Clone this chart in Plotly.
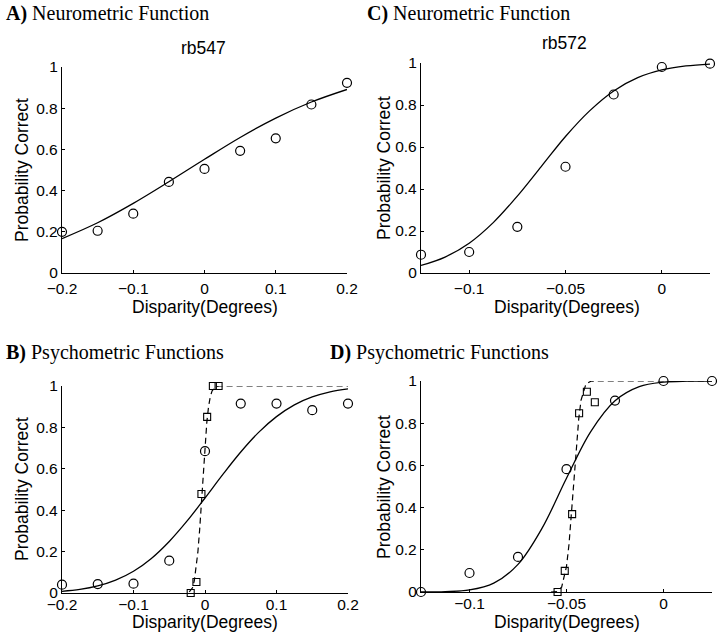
import plotly.graph_objects as go

W, H = 720, 640

# ---------------- data ----------------
# Panel A: neurometric, rb547
a_x = [-0.2, -0.15, -0.1, -0.05, 0.0, 0.05, 0.1, 0.15, 0.2]
a_y = [0.20, 0.205, 0.288, 0.442, 0.505, 0.593, 0.654, 0.818, 0.923]
a_fit_x = [-0.2, -0.15, -0.1, -0.05, 0.0, 0.05, 0.1, 0.15, 0.2]
a_fit_y = [0.167, 0.244, 0.338, 0.443, 0.552, 0.658, 0.752, 0.830, 0.891]

# Panel C: neurometric, rb572
c_x = [-0.125, -0.1, -0.075, -0.05, -0.025, 0.0, 0.025]
c_y = [0.087, 0.10, 0.22, 0.506, 0.85, 0.981, 0.997]
c_fit_x = [-0.125, -0.1125, -0.1, -0.0875, -0.075, -0.0625, -0.05, -0.0375,
           -0.025, -0.0125, 0.0, 0.0125, 0.025]
c_fit_y = [0.036, 0.076, 0.142, 0.240, 0.366, 0.508, 0.650, 0.772,
           0.867, 0.930, 0.967, 0.986, 0.995]

# Panel B: psychometric, rb547 (circles = neuron-matched, squares = monkey)
b_circ_x = [-0.2, -0.15, -0.1, -0.05, 0.0, 0.05, 0.1, 0.15, 0.2]
b_circ_y = [0.04, 0.043, 0.045, 0.156, 0.685, 0.915, 0.915, 0.883, 0.915]
b_fit_x = [-0.2, -0.175, -0.15, -0.125, -0.1, -0.075, -0.05, -0.025, 0.0,
           0.025, 0.05, 0.075, 0.1, 0.125, 0.15, 0.175, 0.2]
b_fit_y = [0.008, 0.017, 0.034, 0.062, 0.105, 0.167, 0.249, 0.348, 0.459,
           0.573, 0.681, 0.776, 0.852, 0.909, 0.947, 0.972, 0.986]
b_sq_x = [-0.020, -0.012, -0.005, 0.003, 0.011, 0.019]
b_sq_y = [0.0, 0.053, 0.478, 0.851, 1.0, 1.0]
b_dash_x = [-0.022, -0.0175, -0.015, -0.0125, -0.01, -0.0075, -0.005, -0.0025,
            0.0, 0.0025, 0.005, 0.0075, 0.01, 0.0125, 0.015, 0.02, 0.2]
b_dash_y = [0.005, 0.025, 0.058, 0.115, 0.196, 0.305, 0.443, 0.585,
            0.716, 0.823, 0.901, 0.950, 0.977, 0.990, 0.997, 1.0, 1.0]

# Panel D: psychometric, rb572
d_circ_x = [-0.125, -0.1, -0.075, -0.05, -0.025, 0.0, 0.025]
d_circ_y = [0.0, 0.09, 0.166, 0.582, 0.907, 1.0, 1.0]
d_fit_x = [-0.125, -0.1125, -0.1, -0.0875, -0.075, -0.0625, -0.05, -0.0375,
           -0.025, -0.0125, 0.0, 0.0125, 0.025]
d_fit_y = [0.0002, 0.0016, 0.0096, 0.042, 0.131, 0.304, 0.539, 0.760,
           0.906, 0.973, 0.9944, 0.9992, 0.9999]
d_sq_x = [-0.0546, -0.0509, -0.0471, -0.0435, -0.0395, -0.0354]
d_sq_y = [0.0, 0.10, 0.369, 0.847, 0.949, 0.899]
d_dash_x = [-0.058, -0.055, -0.0525, -0.05, -0.0487, -0.0475, -0.0462, -0.045,
            -0.0437, -0.0425, -0.04, -0.0375, -0.035, 0.025]
d_dash_y = [0.0, 0.002, 0.023, 0.121, 0.227, 0.37, 0.53, 0.69,
            0.82, 0.909, 0.985, 0.9987, 1.0, 1.0]

y_ticks = [0, 0.2, 0.4, 0.6, 0.8, 1]
y_tick_text = ["0", "0.2", "0.4", "0.6", "0.8", "1"]
ab_ticks = [-0.2, -0.1, 0, 0.1, 0.2]
ab_tick_text = ["\u22120.2", "\u22120.1", "0", "0.1", "0.2"]
cd_ticks = [-0.1, -0.05, 0]
cd_tick_text = ["\u22120.1", "\u22120.05", "0"]

# --------------- layout geometry (pixels) ---------------
def px_x(p):
    return p / W

def px_y(p):
    return 1 - p / H

panels = {
    # name: (x0, x1, ytop, ybottom)
    "A": (62, 347, 67, 273),
    "C": (421, 710, 63, 273),
    "B": (62, 348, 386, 593),
    "D": (421, 712, 381, 592),
}

fig = go.Figure()

circ = dict(symbol="circle-open", size=9, color="black", line=dict(width=1.2, color="black"))
sq = dict(symbol="square-open", size=7, color="black", line=dict(width=1.1, color="black"))
solid = dict(color="black", width=1.3)
dashed = dict(color="black", width=1.2, dash="6px,4px")

def add(x, y, ax, mode, **kw):
    fig.add_trace(go.Scatter(x=x, y=y, mode=mode, xaxis="x" + ax, yaxis="y" + ax,
                             showlegend=False, hoverinfo="skip", cliponaxis=False, **kw))

# A -> axis 1 (''), C -> 2, B -> 3, D -> 4
add(a_fit_x, a_fit_y, "", "lines", line=dict(shape="spline", **solid))
add(a_x, a_y, "", "markers", marker=circ)

add(c_fit_x, c_fit_y, "2", "lines", line=dict(shape="spline", **solid))
add(c_x, c_y, "2", "markers", marker=circ)

add(b_fit_x, b_fit_y, "3", "lines", line=dict(shape="spline", **solid))
add(b_dash_x, b_dash_y, "3", "lines", line=dashed)
add(b_circ_x, b_circ_y, "3", "markers", marker=circ)
add(b_sq_x, b_sq_y, "3", "markers", marker=sq)

add(d_fit_x, d_fit_y, "4", "lines", line=dict(shape="spline", **solid))
add(d_dash_x, d_dash_y, "4", "lines", line=dashed)
add(d_circ_x, d_circ_y, "4", "markers", marker=circ)
add(d_sq_x, d_sq_y, "4", "markers", marker=sq)

tickfont = dict(family="Liberation Sans, Arial, sans-serif", size=15.5, color="black")

def xaxis(panel, rng, ticks, text, anchor, standoff):
    x0, x1, yt, yb = panels[panel]
    return dict(domain=[px_x(x0), px_x(x1)], range=rng, anchor=anchor,
                tickvals=ticks, ticktext=text, ticks="inside", ticklen=3,
                tickcolor="black", tickwidth=1, showline=True, linecolor="black",
                linewidth=1.3, showgrid=False, zeroline=False, tickfont=tickfont,
                fixedrange=True, automargin=False, ticklabelstandoff=standoff)

def yaxis(panel, anchor):
    x0, x1, yt, yb = panels[panel]
    return dict(domain=[px_y(yb), px_y(yt)], range=[0, 1], anchor=anchor,
                tickvals=y_ticks, ticktext=y_tick_text, ticks="inside", ticklen=3,
                tickcolor="black", tickwidth=1, showline=True, linecolor="black",
                linewidth=1.3, showgrid=False, zeroline=False, tickfont=tickfont,
                fixedrange=True, automargin=False)

fig.update_layout(
    width=W, height=H,
    margin=dict(l=0, r=0, t=0, b=0, pad=0, autoexpand=False),
    paper_bgcolor="white", plot_bgcolor="white",
    xaxis=xaxis("A", [-0.2, 0.2], ab_ticks, ab_tick_text, "y", 1),
    yaxis=yaxis("A", "x"),
    xaxis2=xaxis("C", [-0.125, 0.025], cd_ticks, cd_tick_text, "y2", 1),
    yaxis2=yaxis("C", "x2"),
    xaxis3=xaxis("B", [-0.2, 0.2], ab_ticks, ab_tick_text, "y3", -3),
    yaxis3=yaxis("B", "x3"),
    xaxis4=xaxis("D", [-0.125, 0.025], cd_ticks, cd_tick_text, "y4", -3),
    yaxis4=yaxis("D", "x4"),
)

serif = dict(family="Liberation Serif, Times New Roman, serif", size=20, color="black")
sans = dict(family="Liberation Sans, Arial, sans-serif", size=17.5, color="black")

def note(text, x, y, font, xanchor="center", angle=0):
    fig.add_annotation(text=text, x=px_x(x), y=px_y(y), xref="paper", yref="paper",
                       xanchor=xanchor, yanchor="middle", showarrow=False,
                       font=font, textangle=angle)

# panel titles
note("<b>A)</b> Neurometric Function", 4, 14, serif, xanchor="left")
note("<b>C)</b> Neurometric Function", 365, 14, serif, xanchor="left")
note("<b>B)</b> Psychometric Functions", 4, 352, serif, xanchor="left")
note("<b>D)</b> Psychometric Functions", 328, 352, serif, xanchor="left")

# cell names
note("rb547", 203, 48, sans)
note("rb572", 564, 43, sans)

# axis titles
note("Disparity(Degrees)", 205, 307, sans)
note("Disparity(Degrees)", 567, 307, sans)
note("Disparity(Degrees)", 205, 622, sans)
note("Disparity(Degrees)", 567, 622, sans)
note("Probability Correct", 22, 170, sans, angle=-90)
note("Probability Correct", 384, 168, sans, angle=-90)
note("Probability Correct", 22, 489, sans, angle=-90)
note("Probability Correct", 384, 487, sans, angle=-90)

fig.write_html("out.html", config={"displayModeBar": False},
               post_script="document.body.style.margin='0px';document.body.style.padding='0px';")
